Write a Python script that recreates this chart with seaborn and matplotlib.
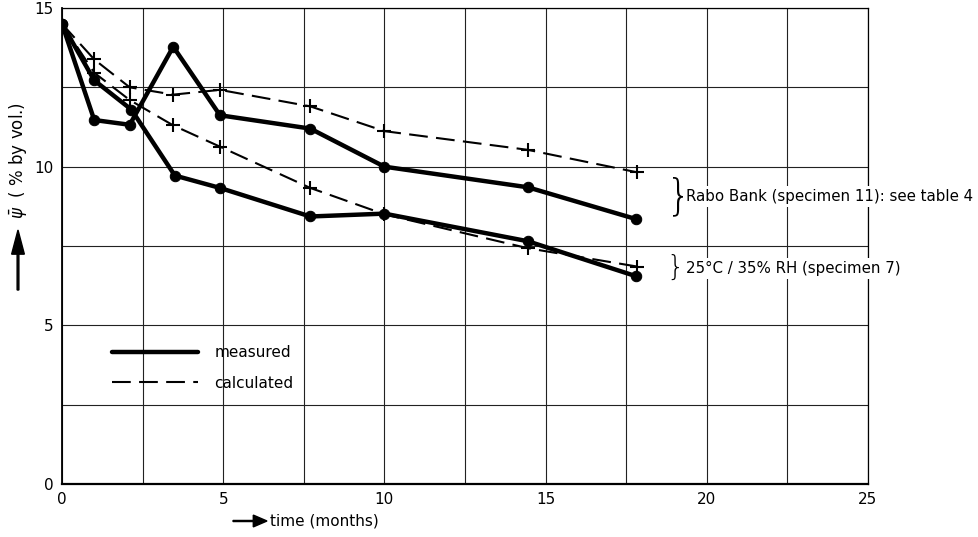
import matplotlib
matplotlib.use("Agg")
import matplotlib.pyplot as plt
import seaborn as sns
import pandas as pd
from matplotlib.lines import Line2D

# ---- data ----
rabo_meas_t = [0, 1.0, 2.1, 3.45, 4.9, 7.7, 10.0, 14.45, 17.8]
rabo_meas = [14.5, 11.47, 11.32, 13.78, 11.62, 11.2, 10.0, 9.35, 8.35]
rh_meas_t = [0, 1.0, 2.15, 3.5, 4.9, 7.7, 10.0, 14.45, 17.8]
rh_meas = [14.5, 12.72, 11.8, 9.72, 9.33, 8.43, 8.52, 7.65, 6.55]
rabo_calc_t = [0, 1.0, 2.1, 3.45, 4.9, 7.7, 10.0, 14.45, 17.85]
rabo_calc = [14.5, 13.38, 12.5, 12.27, 12.42, 11.9, 11.12, 10.53, 9.82]
rh_calc_t = [0, 1.0, 2.1, 3.45, 4.9, 7.7, 10.0, 14.45, 17.85]
rh_calc = [14.5, 12.96, 12.1, 11.3, 10.63, 9.33, 8.5, 7.43, 6.85]

x_ticks = [0, 5, 10, 15, 20, 25]
y_ticks = [0, 5, 10, 15]
legend_labels = ["measured", "calculated"]
rabo_label = "Rabo Bank (specimen 11): see table 4"
rh_label = "25\u00b0C / 35% RH (specimen 7)"
x_label = "time (months)"
y_label = r"$\bar{\psi}$  ( % by vol.)"

sns.set_theme(style="white")
plt.rcParams['font.family'] = ['DejaVu Sans']
plt.rcParams['text.color'] = 'black'

fig = plt.figure(figsize=(9.79, 5.37), dpi=100)
ax = fig.add_axes([62/979, 53/537, 806/979, 476/537])

measured = [(rabo_meas_t, rabo_meas), (rh_meas_t, rh_meas)]
calculated = [(rabo_calc_t, rabo_calc), (rh_calc_t, rh_calc)]

for t, v in measured:
    df = pd.DataFrame({"t": t, "v": v})
    sns.lineplot(data=df, x="t", y="v", ax=ax, color="black", lw=3.2,
                 marker="o", markersize=7.5, markeredgecolor="black",
                 estimator=None, sort=False, zorder=4)
for t, v in calculated:
    df = pd.DataFrame({"t": t, "v": v})
    sns.lineplot(data=df, x="t", y="v", ax=ax, color="black", lw=1.5,
                 marker="+", markersize=10, markeredgewidth=1.5,
                 markeredgecolor="black", markerfacecolor="black",
                 markevery=list(range(1, len(t))),
                 estimator=None, sort=False, zorder=3)
for line in ax.lines[2:]:
    line.set_dashes((9, 4))

ax.set_xlim(0, 25)
ax.set_ylim(0, 15)
ax.set_xticks([0, 2.5, 5, 7.5, 10, 12.5, 15, 17.5, 20, 22.5, 25])
ax.set_xticklabels(["0", "", "5", "", "10", "", "15", "", "20", "", "25"], fontsize=11)
ax.set_yticks([0, 2.5, 5, 7.5, 10, 12.5, 15])
ax.set_yticklabels(["0", "", "5", "", "10", "", "15"], fontsize=11)
ax.tick_params(axis="both", length=0, pad=6, colors="black")
ax.grid(True, color="#222222", lw=0.8)
ax.set_axisbelow(True)
for s in ax.spines.values():
    s.set_visible(True)
    s.set_color("black")
    s.set_linewidth(0.9)
ax.spines["bottom"].set_linewidth(1.6)
ax.spines["left"].set_linewidth(1.3)
ax.set_xlabel("")
ax.set_ylabel("")

# legend
handles = [Line2D([], [], color="black", lw=3.2),
           Line2D([], [], color="black", lw=1.5, dashes=(9, 4))]
leg = ax.legend(handles, legend_labels, loc="upper left",
                bbox_to_anchor=(0.045, 0.32), frameon=False, fontsize=11,
                handlelength=5.6, handletextpad=1.1, labelspacing=1.0)
for txt in leg.get_texts():
    txt.set_color("black")

# annotations with braces
ax.text(18.75, 9.05, "}", fontsize=30, va="center", ha="left",
        family="DejaVu Sans", fontweight="ultralight", color="black",
        bbox=dict(fc="white", ec="none", pad=0))
ax.text(19.35, 9.05, rabo_label, fontsize=10.8, va="center", ha="left",
        color="black", bbox=dict(fc="white", ec="none", pad=2), zorder=5,
        clip_on=False)
ax.text(18.75, 6.8, "}", fontsize=20, va="center", ha="left",
        family="DejaVu Sans", fontweight="ultralight", color="black",
        bbox=dict(fc="white", ec="none", pad=0))
ax.text(19.35, 6.8, rh_label, fontsize=10.8, va="center", ha="left",
        color="black", bbox=dict(fc="white", ec="none", pad=2), zorder=5)

# axis labels with arrows
fig.text(270/979, 1 - 521/537, x_label, fontsize=11, va="center", ha="left",
         color="black")
fig.patches.append(matplotlib.patches.FancyArrow(
    233/979, 1 - 521/537, 34/979, 0, width=0.002, head_width=0.022,
    head_length=0.014, length_includes_head=True, color="black",
    transform=fig.transFigure))
fig.text(18/979, 1 - 160/537, y_label, fontsize=12, va="center", ha="center",
         rotation=90, color="black")
fig.patches.append(matplotlib.patches.FancyArrow(
    18/979, 1 - 290/537, 0, 60/537, width=0.0018, head_width=0.013,
    head_length=0.045, length_includes_head=True, color="black",
    transform=fig.transFigure))

fig.savefig("out.png", dpi=100)
